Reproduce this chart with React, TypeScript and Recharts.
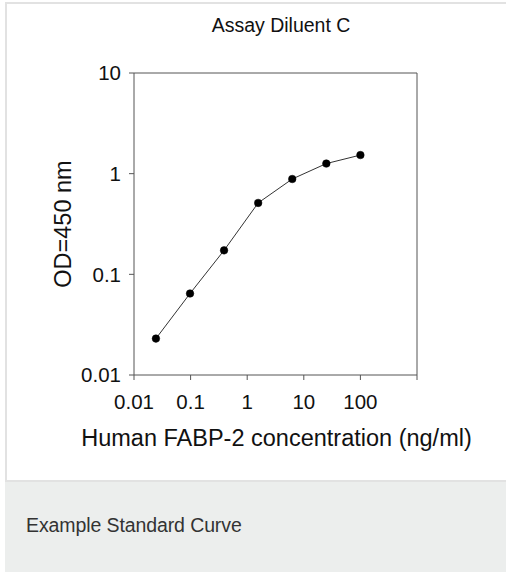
import React from "react";
import { LineChart, Line, XAxis, YAxis, ReferenceLine, Label } from "recharts";

// Standard curve values
const concentrations = [0.0244, 0.0977, 0.39, 1.5625, 6.25, 25, 100];
const odValues = [0.023, 0.0645, 0.173, 0.512, 0.885, 1.26, 1.53];
const xTicks = [0.01, 0.1, 1, 10, 100, 1000];
const yTicks = [0.01, 0.1, 1, 10];
const xTickLabels = ["0.01", "0.1", "1", "10", "100", ""];
const yTickLabels = ["0.01", "0.1", "1", "10"];

const data = concentrations.map((c, i) => ({ conc: c, od: odValues[i] }));

const FONT = '"Liberation Sans", Arial, Helvetica, sans-serif';
const AXIS = "#555";

export default function App() {
  return (
    <div style={{ position: "absolute", left: 0, top: 0, width: 506, height: 572, overflow: "hidden", background: "#fff", fontFamily: FONT }}>
      {/* outer box */}
      <div style={{ position: "absolute", left: 5, top: 2, width: 520, height: 600, border: "2px solid #e2e2e2", boxSizing: "border-box", background: "#fff" }} />
      {/* caption panel */}
      <div style={{ position: "absolute", left: 5, top: 480, width: 520, height: 100, background: "#eceeed", borderTop: "2px solid #e2e2e2" }} />
      <div style={{ position: "absolute", left: 26, top: 514, fontSize: 19.5, color: "#333", letterSpacing: -0.1, whiteSpace: "nowrap" }}>
        Example Standard Curve
      </div>
      {/* title */}
      <div style={{ position: "absolute", left: 181, width: 200, top: 14, textAlign: "center", fontSize: 19.5, color: "#111", whiteSpace: "nowrap" }}>
        Assay Diluent C
      </div>
      <div style={{ position: "absolute", left: 0, top: 0 }}>
        <LineChart width={506} height={480} data={data} margin={{ top: 73, right: 89, left: 0, bottom: 30 }}>
          <XAxis
            dataKey="conc"
            type="number"
            scale="log"
            domain={[0.01, 1000]}
            ticks={xTicks}
            allowDataOverflow
            tickFormatter={(v: number) => xTickLabels[xTicks.indexOf(v)] ?? ""}
            height={75}
            tickSize={5}
            tickMargin={14}
            stroke={AXIS}
            tick={{ fill: "#111", fontSize: 20.5, fontFamily: FONT }}
          >
            <Label
              content={(p: any) => (
                <text x={p.viewBox.x + p.viewBox.width / 2 + 1} y={446} textAnchor="middle" fontSize={23.5} fill="#111" fontFamily={FONT}>
                  Human FABP-2 concentration (ng/ml)
                </text>
              )}
            />
          </XAxis>
          <YAxis
            type="number"
            scale="log"
            domain={[0.01, 10]}
            ticks={yTicks}
            allowDataOverflow
            tickFormatter={(v: number) => yTickLabels[yTicks.indexOf(v)] ?? ""}
            width={134}
            tickSize={5}
            tickMargin={8}
            stroke={AXIS}
            tick={{ fill: "#111", fontSize: 20.5, fontFamily: FONT }}
          >
            <Label
              content={(p: any) => {
                const cy = p.viewBox.y + p.viewBox.height / 2;
                return (
                  <text x={71} y={cy} transform={`rotate(-90, 71, ${cy})`} textAnchor="middle" fontSize={23.5} fill="#111" fontFamily={FONT}>
                    OD=450 nm
                  </text>
                );
              }}
            />
          </YAxis>
          <ReferenceLine y={10} stroke={AXIS} />
          <ReferenceLine x={1000} stroke={AXIS} />
          <Line
            dataKey="od"
            stroke="#333"
            strokeWidth={1}
            dot={{ r: 3.8, fill: "#000", stroke: "#000", strokeWidth: 0.5 }}
            activeDot={false}
            isAnimationActive={false}
          />
        </LineChart>
      </div>
    </div>
  );
}
